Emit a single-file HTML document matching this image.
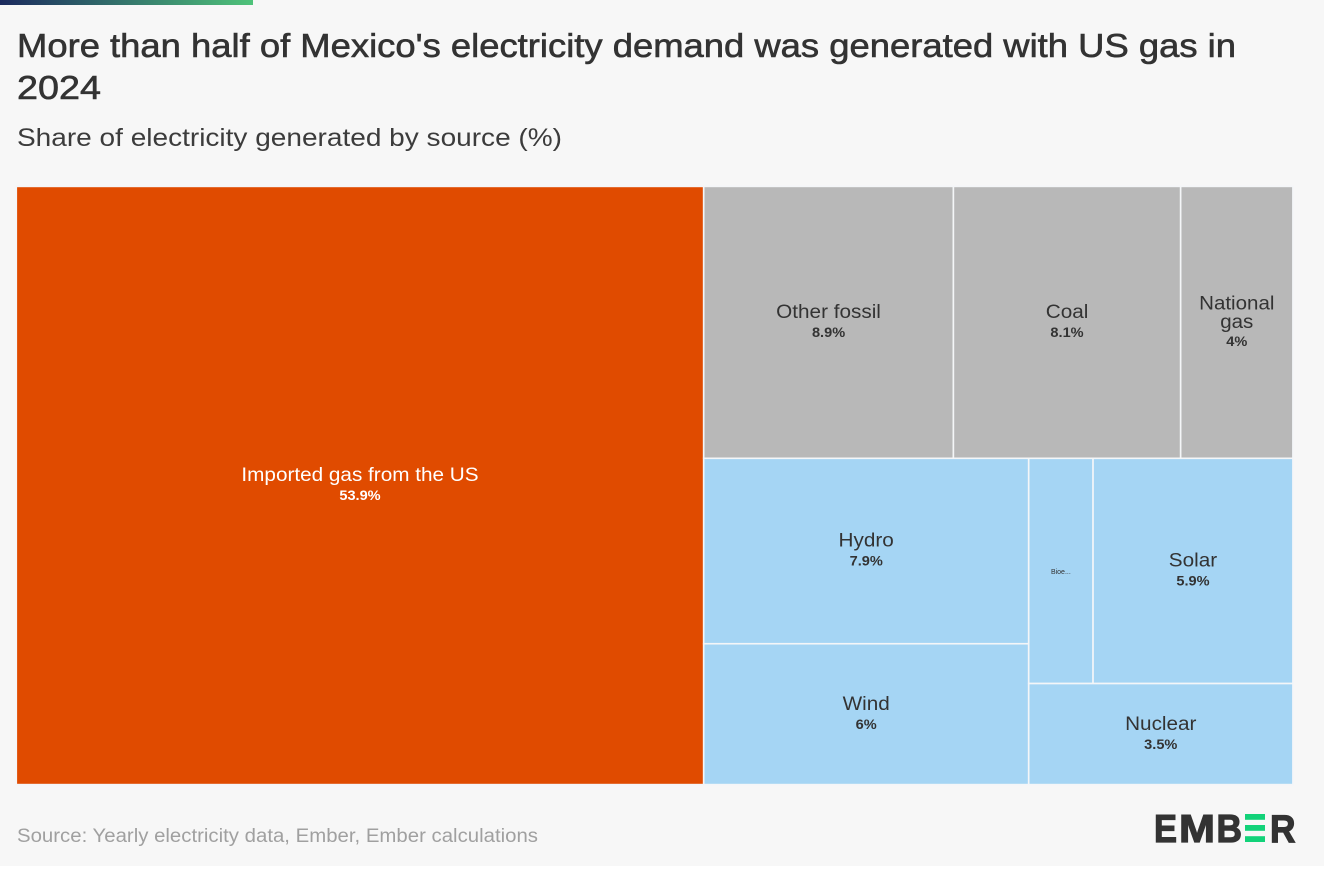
<!DOCTYPE html>
<html lang="en">
<head>
<meta charset="utf-8">
<title>Mexico electricity treemap</title>
<style>
html,body{margin:0;padding:0;width:1324px;height:872px;overflow:hidden;background:#fff;}
svg{display:block;font-family:"Liberation Sans",sans-serif;}
</style>
</head>
<body>
<svg id="chart" width="1324" height="872" viewBox="0 0 1324 872" xmlns="http://www.w3.org/2000/svg">
  <defs>
    <linearGradient id="topbar" x1="0" x2="1" y1="0" y2="0">
      <stop offset="0" stop-color="#1b2a5e"/>
      <stop offset="1" stop-color="#4fc37a"/>
    </linearGradient>
  </defs>
  <rect x="0" y="0" width="1324" height="866" fill="#f7f7f7"/>
  <rect x="0" y="0" width="253" height="5" fill="url(#topbar)"/>
  <text x="17" y="57" font-size="33" font-weight="400" fill="#333" stroke="#333" stroke-width="0.6" textLength="1219" lengthAdjust="spacingAndGlyphs">More than half of Mexico's electricity demand was generated with US gas in</text>
  <text x="17" y="99" font-size="33" font-weight="400" fill="#333" stroke="#333" stroke-width="0.6" textLength="84" lengthAdjust="spacingAndGlyphs">2024</text>
  <text x="17" y="146" font-size="25" fill="#3c3c3c" textLength="545" lengthAdjust="spacingAndGlyphs">Share of electricity generated by source (%)</text>
  <g id="cells"></g>
  <text x="17" y="842" font-size="19" fill="#a0a0a0" textLength="521" lengthAdjust="spacingAndGlyphs">Source: Yearly electricity data, Ember, Ember calculations</text>
  <g font-weight="700" font-size="39" fill="#333" stroke="#333" stroke-width="1.2">
    <text x="1154" y="842" textLength="23" lengthAdjust="spacingAndGlyphs">E</text>
    <text x="1179" y="842" textLength="36" lengthAdjust="spacingAndGlyphs">M</text>
    <text x="1216.5" y="842" textLength="25.5" lengthAdjust="spacingAndGlyphs">B</text>
    <rect x="1245" y="814" width="20" height="5.8" fill="#12d279" stroke="none"/>
    <rect x="1245" y="825" width="20" height="5.8" fill="#12d279" stroke="none"/>
    <rect x="1245" y="836.2" width="20" height="5.8" fill="#12d279" stroke="none"/>
    <text x="1270" y="842" textLength="25.5" lengthAdjust="spacingAndGlyphs">R</text>
  </g>
</svg>
<script>
const categories = ["Imported gas from the US", "Other fossil", "Coal", "National gas", "Hydro", "Wind", "Bioenergy", "Solar", "Nuclear"];
const shareValues = [53.9, 8.9, 8.1, 4, 7.9, 6, 1.9, 5.9, 3.5];
const printedValues = ["53.9%", "8.9%", "8.1%", "4%", "7.9%", "6%", "", "5.9%", "3.5%"];
const cellColors = ["#e04b00", "#b8b8b8", "#b8b8b8", "#b8b8b8", "#a5d5f4", "#a5d5f4", "#a5d5f4", "#a5d5f4", "#a5d5f4"];

const NS = "http://www.w3.org/2000/svg";
const plot = { x: 16.3, y: 186.4, w: 1276.6, h: 598.2 };
const host = document.getElementById("cells");

function total(node) {
  return typeof node === "number" ? shareValues[node] : node.kids.reduce(function (s, k) { return s + total(k); }, 0);
}
function layout(node, x, y, w, h, out) {
  if (typeof node === "number") { out.push({ i: node, x: x, y: y, w: w, h: h }); return; }
  const sum = total(node);
  let offset = 0;
  node.kids.forEach(function (k) {
    const f = total(k) / sum;
    if (node.dir === "x") { layout(k, x + offset, y, w * f, h, out); offset += w * f; }
    else { layout(k, x, y + offset, w, h * f, out); offset += h * f; }
  });
}
const tree = { dir: "x", kids: [0, { dir: "y", kids: [
  { dir: "x", kids: [1, 2, 3] },
  { dir: "x", kids: [
    { dir: "y", kids: [4, 5] },
    { dir: "y", kids: [{ dir: "x", kids: [6, 7] }, 8] }
  ] }
] }] };
const rects = [];
layout(tree, plot.x, plot.y, plot.w, plot.h, rects);

function addText(parent, x, y, str, size, weight, color, name, stretch) {
  const t = document.createElementNS(NS, "text");
  t.setAttribute("x", x);
  t.setAttribute("y", y);
  t.setAttribute("text-anchor", "middle");
  t.setAttribute("font-size", size);
  t.setAttribute("font-weight", weight);
  t.setAttribute("fill", color);
  
  
  t.textContent = str;
  parent.appendChild(t);
  const natural = t.getComputedTextLength();
  t.setAttribute("textLength", natural * stretch);
  t.setAttribute("lengthAdjust", "spacingAndGlyphs");
  return t;
}

rects.forEach(function (c) {
  const g = document.createElementNS(NS, "g");
  const slug = categories[c.i].toLowerCase().replace(/\s+/g, "-");
  
  
  const r = document.createElementNS(NS, "rect");
  r.setAttribute("x", c.x);
  r.setAttribute("y", c.y);
  r.setAttribute("width", c.w);
  r.setAttribute("height", c.h);
  r.setAttribute("fill", cellColors[c.i]);
  r.setAttribute("stroke", "#f4f6f8");
  r.setAttribute("stroke-width", "1.6");
  
  
  g.appendChild(r);
  host.appendChild(g);

  const cx = c.x + c.w / 2;
  const cy = c.y + c.h / 2 + 0.2;
  const color = c.i === 0 ? "#ffffff" : "#333333";
  if (c.w < 70) {
    addText(g, cx, cy + 3, categories[c.i].slice(0, 4) + "...", 7, 400, color, "cell-label-truncated", 1);
    return;
  }
  if (c.w < 120 && categories[c.i].indexOf(" ") > 0) {
    const words = categories[c.i].split(" ");
    addText(g, cx, cy - 13, words[0], 19, 400, color, "cell-label-line-1", 1.08);
    addText(g, cx, cy + 5.5, words[1], 19, 400, color, "cell-label-line-2", 1.08);
    addText(g, cx, cy + 23.5, printedValues[c.i], 14, 700, color, "cell-value", 1.04);
    return;
  }
  addText(g, cx, cy - 4.5, categories[c.i], 19, 400, color, "cell-label", 1.09);
  addText(g, cx, cy + 14.5, printedValues[c.i], 14, 700, color, "cell-value", 1.04);
});
</script>
</body>
</html>
